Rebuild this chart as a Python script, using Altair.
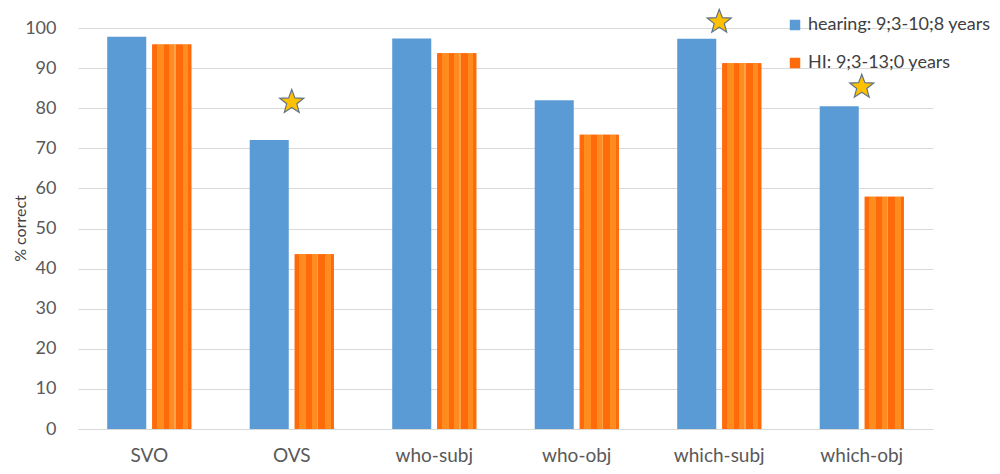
import altair as alt
import pandas as pd

categories = ["SVO", "OVS", "who-subj", "who-obj", "which-subj", "which-obj"]
series_names = ["hearing: 9;3-10;8 years", "HI: 9;3-13;0 years"]
hearing = [97.8, 72.1, 97.4, 82.0, 97.3, 80.5]
hi = [95.9, 43.6, 93.7, 73.4, 91.2, 57.9]
star_categories = ["OVS", "which-subj", "which-obj"]
star_values = [81.5, 101.5, 85.3]

rows = []
for c, h, o in zip(categories, hearing, hi):
    rows.append({"cat": c, "series": series_names[0], "value": h})
    rows.append({"cat": c, "series": series_names[1], "value": o})
df = pd.DataFrame(rows)
stars = pd.DataFrame({"cat": star_categories, "value": star_values})

FONT = "Lato"
x_enc = alt.X("cat:N", sort=categories, title=None,
              scale=alt.Scale(paddingInner=0.41, paddingOuter=0.205),
              axis=alt.Axis(labelAngle=0, labelFontSize=19, labelColor="#595959",
                            labelPadding=17, ticks=False, domainColor="#D9D9D9",
                            labelFont=FONT))
y_enc = alt.Y("value:Q", title="% correct",
              scale=alt.Scale(domain=[0, 100], nice=False),
              axis=alt.Axis(values=list(range(0, 101, 10)), labelFontSize=18,
                            labelColor="#595959", labelPadding=22, ticks=False,
                            domain=False, gridColor="#D9D9D9", labelFont=FONT,
                            titleFont=FONT, titleFontSize=16, titleFontWeight="normal",
                            titleColor="#404040", titleX=-58, titleY=200,
                            titleAngle=270, titleAlign="center", titleBaseline="middle"))
xoff = alt.XOffset("series:N", sort=series_names,
                   scale=alt.Scale(paddingInner=0.133, paddingOuter=0))

bars = alt.Chart(df).mark_bar().encode(
    x=x_enc, y=y_enc, xOffset=xoff,
    color=alt.Color("series:N", sort=series_names,
                    scale=alt.Scale(domain=series_names, range=["#5B9BD5", "#FF6A0A"]),
                    legend=alt.Legend(title=None, orient="none", legendX=708, legendY=-12,
                                      symbolType="square", symbolSize=110,
                                      labelFontSize=18, labelColor="#404040",
                                      labelFont=FONT, rowPadding=20, symbolStrokeWidth=0,
                                      labelOffset=4, labelLimit=0)),
)

stripe_colors = ["#FF6A0A", "#FF8C1F", "#FF6A0A", "#FF8C1F", "#FFA04A", "#FF6A0A",
                 "#FF8C1F", "#FF6A0A"]
stripe_edges = [0.0, 0.12, 0.30, 0.44, 0.56, 0.60, 0.78, 0.92, 1.0]
stops = []
for i, col in enumerate(stripe_colors):
    stops.append({"offset": stripe_edges[i], "color": col})
    stops.append({"offset": stripe_edges[i + 1] - 0.001, "color": col})

hi_overlay = alt.Chart(df).transform_filter(
    alt.datum.series == series_names[1]
).mark_bar(color={"gradient": "linear", "x1": 0, "x2": 1, "y1": 0, "y2": 0,
                  "stops": stops}).encode(
    x=alt.X("cat:N", sort=categories), y="value:Q", xOffset=xoff,
)

star_path = ("M0,-1L0.247,-0.34L0.951,-0.309L0.4,0.13L0.588,0.809L0,0.42"
             "L-0.588,0.809L-0.4,0.13L-0.951,-0.309L-0.247,-0.34Z")
star_layer = alt.Chart(stars).mark_point(
    shape=star_path, size=640, filled=True, fill="#FFC000", stroke="#5F7385",
    strokeWidth=1.2, opacity=1
).encode(x=alt.X("cat:N", sort=categories), y="value:Q")

chart = alt.layer(bars, hi_overlay, star_layer).properties(
    width=855, height=401,
    autosize=alt.AutoSizeParams(type="none"),
    padding={"left": 70, "top": 20, "right": 59, "bottom": 37},
).configure_view(stroke=None).configure_axis(grid=True).configure_axisX(grid=False)

chart.save("out.html", embed_options={"renderer": "svg", "actions": False})
